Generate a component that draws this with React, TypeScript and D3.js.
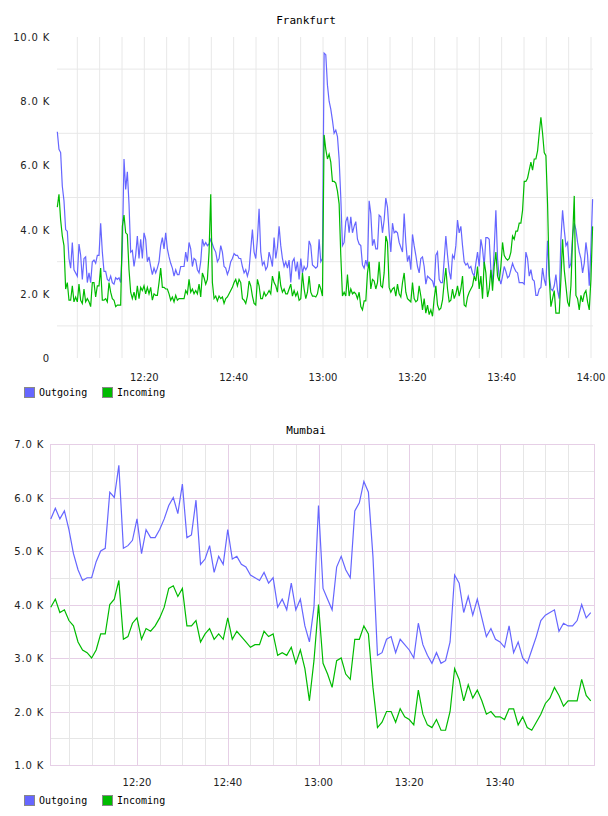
import React from "react";
import * as d3 from "d3";

// Frankfurt, sampled every 22.4 s from 12:00:31 (values in K)
const frankfurtOutgoing = [
  7.05, 6.5, 6.4, 5.35, 4.9, 4.0, 3.95, 3.1, 2.8, 3.6, 2.75, 2.65, 2.55, 3.55, 3.2, 2.45, 3.1, 3.15, 2.35, 2.65, 2.35, 3.0, 3.05, 2.95, 3.2, 3.2,
  4.2, 3.3, 2.7, 2.7, 2.45, 2.4, 2.55, 2.35, 2.3, 2.5, 2.45, 2.5, 2.35,
  3.4, 6.2, 5.25, 5.8, 4.8, 3.3, 3.35, 2.85, 3.2, 3.8, 3.1, 3.7, 3.1, 3.9, 3.7, 3.0, 3.15, 2.85, 2.6, 2.8, 2.65, 2.8, 3.0, 3.5, 3.75, 3.4, 3.9, 3.4,
  3.15, 2.95, 2.8, 2.55, 2.75, 2.6, 2.6, 2.85, 2.85, 2.85, 3.3, 3.0, 3.6, 3.4, 2.85, 3.1,
  3.05, 2.75, 2.65, 3.0, 3.7, 3.5, 3.6, 3.5, 3.55, 3.7, 3.55, 3.4, 3.3, 3.0, 3.1, 3.5, 3.3, 2.85, 2.8, 2.6, 2.75, 3.0, 3.1, 3.25, 3.2, 3.2, 3.1,
  3.1, 2.85, 2.65, 2.75, 2.55, 2.75, 3.4, 4.0, 3.3, 3.1, 3.7, 4.65, 3.3, 2.9, 3.0, 2.75, 2.85, 3.3, 3.1, 2.85, 3.75, 3.1, 3.45, 4.1, 3.5, 3.1,
  2.85, 3.0, 2.8, 3.05, 2.35, 3.0, 3.1, 2.7, 3.0, 2.45, 3.1, 2.65, 2.85, 2.75, 2.85, 3.65, 3.5, 2.9, 2.85, 2.8, 2.85, 3.7, 3.0, 3.1, 9.5, 9.45,
  8.5, 8.0,
  7.75, 7.4, 7.0, 7.1, 6.9, 6.2, 5.0, 3.5, 3.6, 4.25, 4.4, 3.9, 4.4, 3.9, 4.1, 4.25, 3.7, 3.55, 3.5, 2.9, 2.8, 3.05, 2.85, 4.9, 4.5, 3.5, 3.7,
  3.4, 3.4, 4.45, 4.4, 3.9, 4.3, 4.98, 4.7, 3.9, 3.3, 4.2, 3.9, 3.95, 3.9, 3.6, 3.45, 3.3, 4.5, 3.6, 3.0, 3.2, 2.75, 3.85, 3.5, 3.2, 2.85, 2.65,
  3.1, 3.15, 2.85, 2.3, 2.55, 2.5, 2.45, 2.4, 2.2, 3.2, 3.3, 2.45, 2.35, 2.35, 3.05, 3.8, 3.2, 2.7, 2.45, 3.2, 3.1, 3.5, 4.3, 3.9, 4.1, 3.5, 3.0,
  2.9, 2.95, 2.8, 2.85, 2.65, 2.55, 2.95, 3.3, 2.85, 3.7, 3.4, 2.85, 3.75, 3.75, 3.7, 2.75, 2.35, 3.4, 4.6, 3.1, 2.5, 2.3, 2.55, 2.85, 2.7, 2.5,
  2.55, 2.75, 2.95, 2.8, 2.7, 2.65, 2.35, 2.35, 2.35, 2.3, 3.3, 3.1, 2.55, 2.75, 2.45, 2.4, 1.95, 1.95, 2.15, 2.2, 2.8, 2.45, 2.25, 3.65, 2.6,
  2.15, 2.1, 2.25, 2.6, 2.1, 1.85, 3.7, 4.6, 4.0, 3.5, 3.6, 2.8, 2.95, 3.8, 4.2, 4.0, 3.6, 3.3, 3.1, 2.65, 2.95, 3.6, 3.2, 2.25, 3.4, 4.95,
];

const frankfurtIncoming = [
  4.7, 5.1, 4.3, 3.8, 3.5, 2.15, 2.35, 1.8, 1.8, 2.25, 1.75, 1.9, 1.75, 2.3, 1.8, 1.7, 2.15, 1.75, 1.85, 1.75, 1.6, 2.35, 2.35, 1.9, 2.25, 2.25,
  2.8, 1.8, 1.8, 1.85, 1.75, 2.35, 2.05, 1.85, 1.8, 1.6, 1.65, 1.65, 1.65,
  4.1, 4.45, 3.9, 3.85, 2.75, 2.05, 1.85, 2.05, 1.8, 2.25, 1.85, 2.2, 2.1, 2.25, 2.0, 2.2, 2.0, 2.2, 1.8, 2.0, 1.95, 1.95, 2.35, 2.8, 2.2, 2.2,
  2.15, 2.15, 2.0, 1.8, 1.9, 1.75, 1.95, 1.8, 1.85, 1.85, 1.85, 1.85, 2.1, 2.0, 2.45, 2.05, 2.15, 2.0,
  2.1, 2.0, 2.3, 1.9, 2.65, 2.5, 2.3, 2.45, 3.3, 5.1, 2.35, 1.85, 1.93, 1.78, 1.93, 1.85, 1.9, 1.7, 1.85, 1.9, 2.0, 2.1, 2.2, 2.35, 2.45, 2.25,
  2.45, 2.35, 1.85, 1.8, 1.7, 1.93, 2.4, 2.25, 1.93, 1.7, 1.65, 2.45, 2.25, 1.85, 1.85, 2.05, 1.93, 2.0, 2.1, 2.0, 2.55, 2.35, 2.25, 2.05, 2.7,
  2.25, 2.05, 2.15, 2.0, 2.0, 2.15, 2.3, 1.93, 2.1, 1.93, 2.05, 1.8, 1.85, 2.65, 2.15, 1.85, 2.05, 2.55, 2.05, 1.93, 1.93, 1.9, 2.0, 2.3, 2.15,
  1.93, 6.95, 6.5, 6.2, 6.35,
  6.1, 5.5, 5.5, 5.45, 5.2, 4.8, 3.2, 1.93, 2.05, 1.93, 2.6, 1.93, 2.15, 2.0, 2.05, 2.0, 1.85, 2.05, 1.6, 1.5, 1.78, 1.78, 2.65, 3.0, 2.15, 2.45,
  2.4, 2.15, 2.35, 3.0, 2.25, 2.2, 2.65, 3.8, 3.6, 2.2, 2.05, 2.15, 2.2, 1.93, 2.3, 2.0, 1.9, 2.35, 2.65, 2.05, 1.85, 1.8, 1.75, 2.35, 1.85, 1.75,
  1.8, 2.25, 1.93, 1.5, 1.85, 1.4, 1.65, 1.35, 1.5, 1.3, 1.85, 2.25, 1.65, 1.5, 1.55, 1.8, 2.35, 2.8, 2.15, 1.75, 1.8, 2.15, 1.85, 2.0, 2.25,
  1.93, 2.15, 2.55, 1.65,
  1.6, 1.9, 2.05, 2.15, 2.25, 2.55, 2.4, 2.85, 2.15, 2.55, 1.85, 3.0, 2.65, 1.9, 2.15, 2.75, 2.1, 2.85, 3.3, 2.55, 2.4, 2.85, 3.6, 3.2, 3.1, 3.05,
  3.1, 3.3, 3.8, 3.7, 3.95, 3.95, 4.2, 4.2, 4.6, 5.5, 5.5, 5.6, 5.85, 6.1, 5.85, 6.2, 6.2, 6.45, 7.0, 7.5, 7.0, 6.4, 6.3, 4.8, 2.5, 1.6, 1.85,
  2.1, 1.4, 1.4, 1.4, 2.45, 3.7, 2.75, 2.25, 1.75, 1.6, 2.25, 3.7, 5.05, 1.95, 1.85, 1.5, 1.95, 1.75, 2.0, 2.1, 1.75, 1.5, 2.45, 4.1,
];

// Mumbai, one sample per minute from 12:01 (values in K)
const mumbaiOutgoing = [
  5.6, 5.8, 5.6, 5.75, 5.4, 4.95, 4.65, 4.45, 4.5, 4.5, 4.8, 5.0, 5.05, 6.1, 6.0, 6.6, 5.05, 5.1, 5.2, 5.6, 4.95, 5.4, 5.25, 5.25,
  5.4, 5.6, 5.85, 6.0, 5.7, 6.25, 5.25, 5.3, 5.95, 4.75, 4.85, 5.1, 4.6, 4.9, 4.75, 5.4, 4.85, 4.9, 4.75, 4.7, 4.55, 4.5, 4.45, 4.6,
  4.4, 4.5, 3.95, 4.1, 3.9, 4.4, 3.9, 4.1, 3.6, 3.3, 3.95, 5.85, 4.3, 4.1, 3.9, 4.7, 4.9, 4.65, 4.5, 5.75, 5.9, 6.3, 6.1, 4.9,
  3.05, 3.1, 3.35, 3.4, 3.1, 3.35, 3.25, 3.15, 3.0, 3.65, 3.25, 3.05, 2.9, 3.1, 2.9, 2.95, 3.3, 4.55, 4.4, 3.85, 4.15, 3.8, 4.1, 3.75,
  3.4, 3.55, 3.35, 3.3, 3.2, 3.6, 3.1, 3.3, 3.0, 2.9, 3.15, 3.4, 3.7, 3.8, 3.85, 3.9, 3.5, 3.65, 3.6, 3.6, 3.7, 4.0, 3.75, 3.85,
];

const mumbaiIncoming = [
  3.95, 4.1, 3.85, 3.9, 3.7, 3.6, 3.3, 3.15, 3.1, 3.0, 3.15, 3.45, 3.45, 4.0, 4.1, 4.45, 3.35, 3.4, 3.65, 3.75, 3.35, 3.55, 3.5, 3.6,
  3.75, 3.95, 4.3, 4.35, 4.15, 4.3, 3.6, 3.6, 3.7, 3.3, 3.45, 3.55, 3.35, 3.45, 3.35, 3.75, 3.35, 3.5, 3.4, 3.3, 3.2, 3.25, 3.25, 3.5,
  3.4, 3.45, 3.05, 3.1, 3.05, 3.2, 2.9, 3.15, 2.8, 2.2, 2.95, 4.0, 2.9, 2.7, 2.45, 2.95, 3.0, 2.7, 2.6, 3.35, 3.35, 3.6, 3.45, 2.45,
  1.7, 1.8, 2.0, 2.0, 1.8, 2.05, 1.9, 1.85, 1.75, 2.4, 1.95, 1.75, 1.7, 1.85, 1.65, 1.65, 2.0, 2.8, 2.6, 2.2, 2.5, 2.25, 2.4, 2.2,
  1.95, 2.0, 1.9, 1.9, 1.85, 2.05, 2.05, 1.75, 1.9, 1.7, 1.65, 1.8, 1.95, 2.15, 2.25, 2.45, 2.3, 2.1, 2.2, 2.2, 2.2, 2.6, 2.3, 2.2,
];

const seriesNames = ["Outgoing", "Incoming"];
const seriesColors = ["#6666ff", "#00bb00"];
const topYTicks = [0, 2, 4, 6, 8, 10];
const topYGrid = [1, 3, 5, 7, 9];
const bottomYTicks = [1, 2, 3, 4, 5, 6, 7];
const xTickLabels = ["12:20", "12:40", "13:00", "13:20", "13:40", "14:00"];

const day = (h: number, m: number, s = 0) => new Date(2020, 0, 1, h, m, s);
const fmtK = (v: number) => (v === 0 ? "0" : `${v.toFixed(1)} K`);
const parseHM = (s: string) => {
  const [h, m] = s.split(":").map(Number);
  return day(h, m);
};

const topTimes = frankfurtOutgoing.map((_, i) => new Date(day(12, 0, 31).getTime() + i * 22400));
const bottomTimes = mumbaiOutgoing.map((_, i) => day(12, 1 + i));

const mono = "'DejaVu Sans Mono', monospace";
const sans = "'DejaVu Sans', sans-serif";

function Legend({ y }: { y: number }) {
  return (
    <g>
      {seriesNames.map((name, i) => (
        <g key={name} transform={`translate(${24 + i * 78},${y})`}>
          <rect x={0.5} y={0.5} width={10} height={10} fill={seriesColors[i]} stroke="#888" />
          <text x={15} y={9} fontFamily={mono} fontSize={10} fill="#000">
            {name}
          </text>
        </g>
      ))}
    </g>
  );
}

function TopChart() {
  const x = d3.scaleTime().domain([day(12, 0), day(14, 0)]).range([55, 591]);
  const y = d3.scaleLinear().domain([0, 10]).range([358, 37]);
  const left = 57, right = 593;
  const grid = d3.timeMinute.every(5)!.range(day(12, 5), day(14, 0, 1));
  const line = d3
    .line<number>()
    .x((_, i) => x(topTimes[i]))
    .y((d) => y(d));
  return (
    <g>
      <text x={306} y={24} textAnchor="middle" fontFamily={mono} fontSize={11}>
        Frankfurt
      </text>
      {grid.map((t) => (
        <line key={+t} x1={x(t)} x2={x(t)} y1={37} y2={358} stroke="#e8e8e8" />
      ))}
      {topYGrid.map((v) => (
        <line key={v} x1={left} x2={right} y1={y(v)} y2={y(v)} stroke="#e8e8e8" />
      ))}
      {topYTicks.map((v) => (
        <text key={v} x={50} y={y(v) + 4} textAnchor="end" fontFamily={sans} fontSize={10} letterSpacing={0.8} fill="#222">
          {fmtK(v)}
        </text>
      ))}
      {xTickLabels.map((s) => (
        <text key={s} x={x(parseHM(s))} y={381} textAnchor="middle" fontFamily={sans} fontSize={10} fill="#222">
          {s}
        </text>
      ))}
      <path d={line(frankfurtOutgoing)!} fill="none" stroke={seriesColors[0]} strokeWidth={1.2} />
      <path d={line(frankfurtIncoming)!} fill="none" stroke={seriesColors[1]} strokeWidth={1.2} />
      <Legend y={387} />
    </g>
  );
}

function BottomChart() {
  const x = d3.scaleTime().domain([day(12, 0), day(14, 0)]).range([46.25, 590.75]);
  const y = d3.scaleLinear().domain([1, 7]).range([765, 444]);
  const left = 50.5, right = 594.5, top = 444.5, bottom = 765.5;
  const minor = d3.timeMinute.every(5)!.range(day(12, 5), day(14, 0));
  const halfSteps = d3.range(1.5, 7, 0.5);
  const line = d3
    .line<number>()
    .x((_, i) => x(bottomTimes[i]))
    .y((d) => y(d));
  return (
    <g>
      <text x={306} y={434} textAnchor="middle" fontFamily={mono} fontSize={11}>
        Mumbai
      </text>
      {halfSteps.map((v) => (
        <line
          key={v}
          x1={left}
          x2={right}
          y1={Math.round(y(v)) + 0.5}
          y2={Math.round(y(v)) + 0.5}
          stroke={v % 1 === 0 ? "#e6cfe6" : "#e6e6e6"}
        />
      ))}
      {minor.map((t) => (
        <line
          key={+t}
          x1={Math.round(x(t)) + 0.5}
          x2={Math.round(x(t)) + 0.5}
          y1={top}
          y2={bottom}
          stroke={t.getMinutes() % 20 === 0 ? "#e6cfe6" : "#e6e6e6"}
        />
      ))}
      <rect x={left} y={top} width={right - left} height={bottom - top} fill="none" stroke="#e6cfe6" />
      {bottomYTicks.map((v) => (
        <text key={v} x={44} y={y(v) + 4} textAnchor="end" fontFamily={sans} fontSize={10} letterSpacing={0.8} fill="#222">
          {fmtK(v)}
        </text>
      ))}
      {xTickLabels.slice(0, 5).map((s) => (
        <text key={s} x={x(parseHM(s))} y={786} textAnchor="middle" fontFamily={sans} fontSize={10} fill="#222">
          {s}
        </text>
      ))}
      <path d={line(mumbaiOutgoing)!} fill="none" stroke={seriesColors[0]} strokeWidth={1.2} />
      <path d={line(mumbaiIncoming)!} fill="none" stroke={seriesColors[1]} strokeWidth={1.2} />
      <Legend y={795} />
    </g>
  );
}

export default function App() {
  return (
    <div style={{ position: "absolute", left: 0, top: 0 }}>
      <svg width={608} height={816} style={{ display: "block", background: "#fff" }}>
        <TopChart />
        <BottomChart />
      </svg>
    </div>
  );
}
